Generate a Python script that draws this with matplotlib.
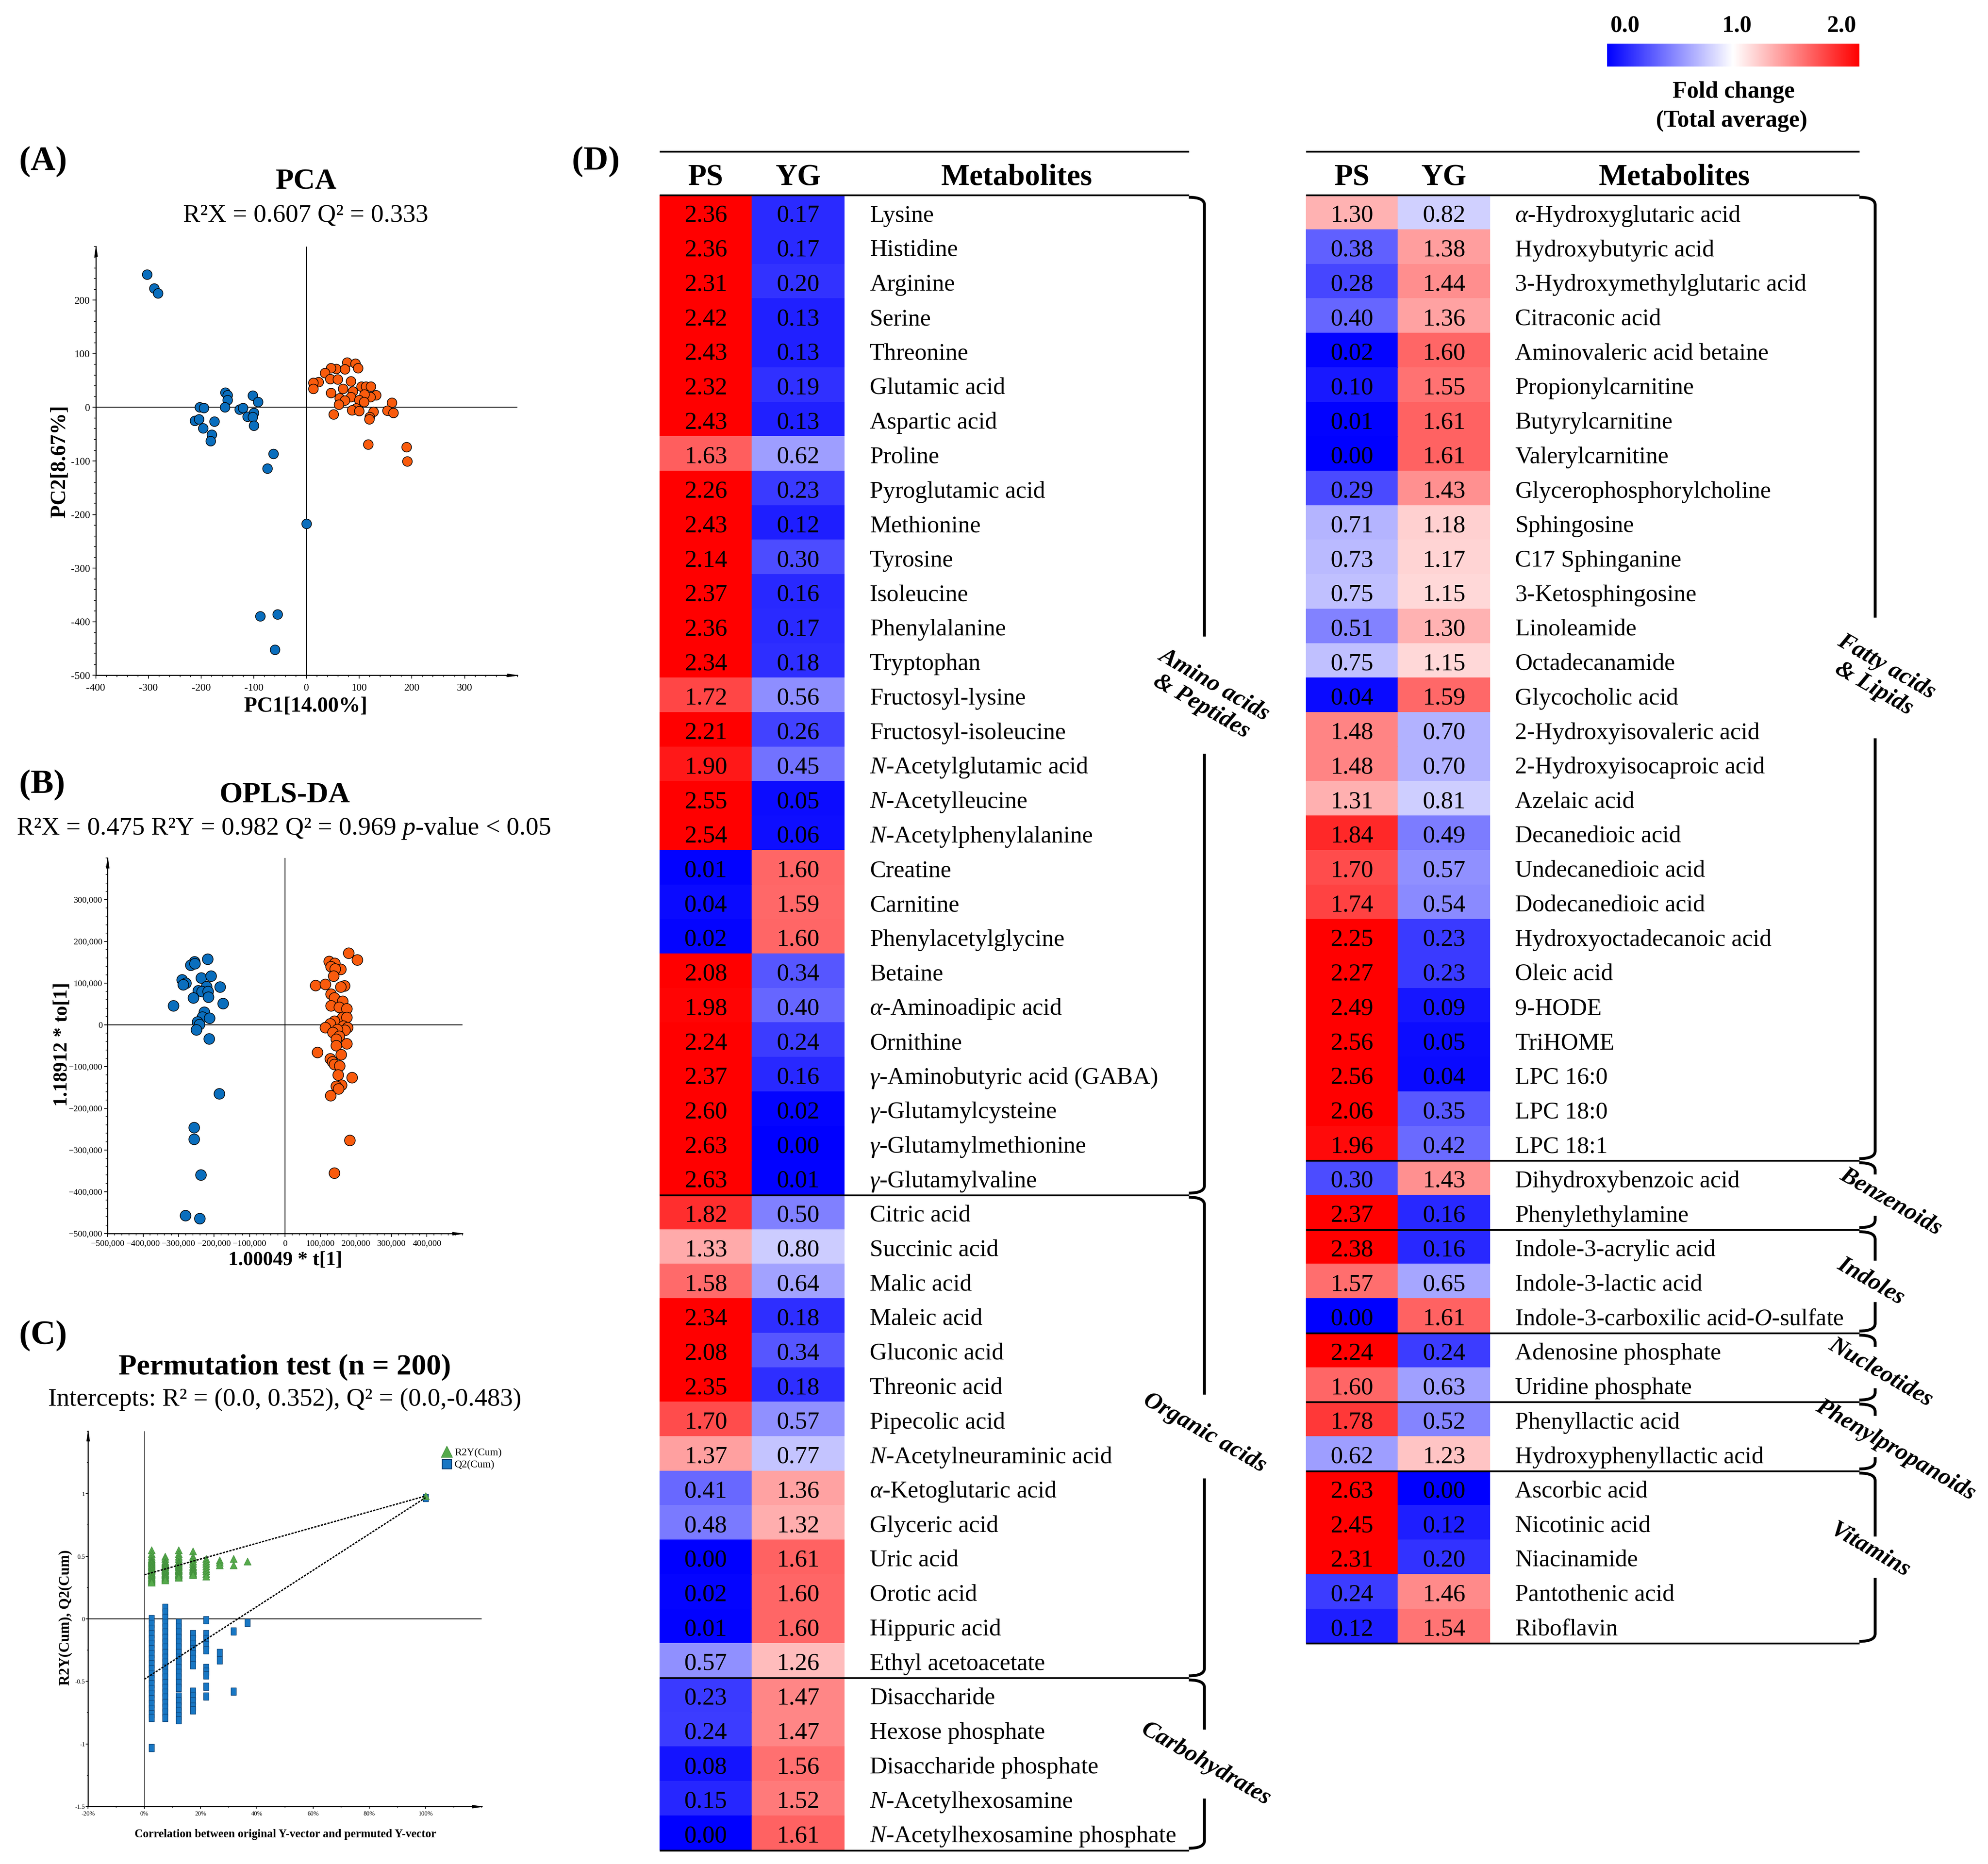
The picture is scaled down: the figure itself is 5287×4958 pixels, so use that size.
import numpy as np
import matplotlib
matplotlib.use("Agg")
import matplotlib.pyplot as plt
from matplotlib.colors import LinearSegmentedColormap, Normalize
from matplotlib.ticker import MultipleLocator, FuncFormatter
from matplotlib.path import Path
from matplotlib.patches import PathPatch
from matplotlib.lines import Line2D
from matplotlib.cm import ScalarMappable
from matplotlib.transforms import ScaledTranslation

plt.rcParams['font.family'] = ['Liberation Serif', 'DejaVu Serif']
plt.rcParams['mathtext.fontset'] = 'custom'
plt.rcParams['mathtext.rm'] = 'Liberation Serif'
plt.rcParams['mathtext.it'] = 'Liberation Serif:italic'
plt.rcParams['mathtext.bf'] = 'Liberation Serif:bold'
plt.rcParams['axes.unicode_minus'] = False

# ------------------------------------------------------------------ data
# (A) PCA scores
pca_blue_x = [-303, -289, -282, -154, -150, -150, -155, -203, -195, -212,
              -204, -196, -175, -180, -182, -127, -121, -112, -102, -92,
              -100, -102, -100, -63, -74, 0, -88, -55, -60]
pca_blue_y = [248, 222, 213, 28, 23, 14, 0, 0, -1, -25,
              -22, -39, -26, -51, -63, -4, -1, -17, 22, 10,
              -10, -18, -34, -87, -114, -217, -390, -386, -452]
pca_orange_x = [77, 93, 98, 56, 73, 46, 35, 45, 59, 23,
                13, 13, 84, 69, 104, 113, 122, 88, 46, 132,
                121, 110, 63, 84, 73, 100, 109, 61, 162, 94,
                86, 100, 127, 153, 165, 51, 120, 119, 117, 190, 191]
pca_orange_y = [84, 82, 73, 72, 71, 73, 64, 53, 52, 47,
                46, 35, 49, 35, 39, 39, 39, 30, 27, 23,
                19, 24, 17, 19, 13, 14, 10, 5, 9, -2,
                -5, -7, -8, -6, -10, -13, -18, -22, -69, -74, -101]

# (B) OPLS-DA scores (in thousands)
opls_blue_xk = [-218, -255, -266, -254, -290, -280, -287, -236, -209, -183,
                -222, -245, -234, -217, -216, -259, -175, -315, -228, -233,
                -213, -247, -242, -250, -214, -185, -256, -256, -237, -281, -241]
opls_blue_yk = [158, 151, 143, 147, 108, 100, 96, 113, 117, 91,
                92, 82, 80, 80, 67, 65, 51, 46, 31, 19,
                16, 7, 1, -12, -33, -165, -246, -274, -360, -457, -464]
opls_orange_xk = [179, 203, 124, 140, 129, 157, 141, 137, 86, 113,
                  167, 157, 129, 139, 162, 129, 153, 174, 162, 174,
                  139, 127, 113, 164, 176, 169, 147, 135, 153, 144,
                  144, 174, 91, 158, 127, 134, 139, 154, 189, 149,
                  159, 144, 151, 128, 182, 139]
opls_orange_yk = [172, 156, 152, 148, 140, 133, 134, 117, 95, 97,
                  94, 91, 74, 65, 57, 46, 42, 39, 18, 18,
                  9, 3, -6, -3, -6, -13, -11, -18, -27, -34,
                  -50, -45, -66, -71, -81, -88, -95, -98, -126, -120,
                  -144, -147, -153, -169, -277, -355]

# (C) permutation test
perm_corr = [0.025, 0.074, 0.122, 0.172, 0.220, 0.268, 0.317, 0.366, 1.000]
r2y_perm = [
    [0.55, 0.52, 0.50, 0.48, 0.47, 0.46, 0.45, 0.44, 0.43, 0.42, 0.41, 0.40,
     0.39, 0.38, 0.37, 0.36, 0.35, 0.34, 0.33, 0.32, 0.31, 0.30, 0.29],
    [0.50, 0.48, 0.46, 0.45, 0.44, 0.43, 0.42, 0.41, 0.40, 0.39, 0.38, 0.37,
     0.36, 0.35, 0.34, 0.33, 0.32, 0.31],
    [0.55, 0.52, 0.50, 0.48, 0.46, 0.45, 0.44, 0.43, 0.42, 0.41, 0.40, 0.39,
     0.38, 0.37, 0.36, 0.35, 0.34, 0.33],
    [0.54, 0.50, 0.48, 0.46, 0.44, 0.42, 0.41, 0.40, 0.39, 0.38, 0.37, 0.36, 0.35],
    [0.48, 0.46, 0.44, 0.42, 0.40, 0.38, 0.36, 0.34],
    [0.47, 0.45, 0.43],
    [0.48, 0.43],
    [0.46],
    [0.982]]
q2_perm = [
    [0.00, -0.04, -0.08, -0.12, -0.16, -0.20, -0.24, -0.28, -0.32, -0.36, -0.40,
     -0.44, -0.48, -0.52, -0.56, -0.60, -0.64, -0.68, -0.72, -0.76, -0.79, -1.03],
    [0.09, 0.05, 0.01, -0.03, -0.07, -0.11, -0.15, -0.19, -0.23, -0.27, -0.31,
     -0.35, -0.39, -0.43, -0.47, -0.51, -0.55, -0.59, -0.63, -0.67, -0.71, -0.75, -0.79],
    [-0.03, -0.07, -0.11, -0.15, -0.19, -0.23, -0.27, -0.31, -0.35, -0.39, -0.43,
     -0.47, -0.51, -0.55, -0.62, -0.66, -0.70, -0.74, -0.78, -0.81],
    [-0.12, -0.16, -0.20, -0.24, -0.28, -0.32, -0.37, -0.58, -0.62, -0.66, -0.70, -0.73],
    [-0.01, -0.12, -0.16, -0.21, -0.25, -0.39, -0.42, -0.45, -0.54, -0.62],
    [-0.27, -0.33],
    [-0.10, -0.58],
    [-0.03],
    [0.969]]
fit_x = [0.0, 1.0]
r2_fit_y = [0.352, 0.982]
q2_fit_y = [-0.483, 0.969]

# (D) fold-change heat map
left_names = ['Lysine', 'Histidine', 'Arginine', 'Serine', 'Threonine', 'Glutamic acid',
              'Aspartic acid', 'Proline', 'Pyroglutamic acid', 'Methionine', 'Tyrosine',
              'Isoleucine', 'Phenylalanine', 'Tryptophan', 'Fructosyl-lysine',
              'Fructosyl-isoleucine', r'$\mathit{N}$-Acetylglutamic acid',
              r'$\mathit{N}$-Acetylleucine', r'$\mathit{N}$-Acetylphenylalanine',
              'Creatine', 'Carnitine', 'Phenylacetylglycine', 'Betaine',
              r'$\mathit{α}$-Aminoadipic acid', 'Ornithine',
              r'$\mathit{γ}$-Aminobutyric acid (GABA)', r'$\mathit{γ}$-Glutamylcysteine',
              r'$\mathit{γ}$-Glutamylmethionine', r'$\mathit{γ}$-Glutamylvaline',
              'Citric acid', 'Succinic acid', 'Malic acid', 'Maleic acid', 'Gluconic acid',
              'Threonic acid', 'Pipecolic acid', r'$\mathit{N}$-Acetylneuraminic acid',
              r'$\mathit{α}$-Ketoglutaric acid', 'Glyceric acid', 'Uric acid', 'Orotic acid',
              'Hippuric acid', 'Ethyl acetoacetate',
              'Disaccharide', 'Hexose phosphate', 'Disaccharide phosphate',
              r'$\mathit{N}$-Acetylhexosamine', r'$\mathit{N}$-Acetylhexosamine phosphate']
left_ps = [2.36, 2.36, 2.31, 2.42, 2.43, 2.32, 2.43, 1.63, 2.26, 2.43, 2.14, 2.37, 2.36,
           2.34, 1.72, 2.21, 1.90, 2.55, 2.54, 0.01, 0.04, 0.02, 2.08, 1.98, 2.24, 2.37,
           2.60, 2.63, 2.63,
           1.82, 1.33, 1.58, 2.34, 2.08, 2.35, 1.70, 1.37, 0.41, 0.48, 0.00, 0.02, 0.01, 0.57,
           0.23, 0.24, 0.08, 0.15, 0.00]
left_yg = [0.17, 0.17, 0.20, 0.13, 0.13, 0.19, 0.13, 0.62, 0.23, 0.12, 0.30, 0.16, 0.17,
           0.18, 0.56, 0.26, 0.45, 0.05, 0.06, 1.60, 1.59, 1.60, 0.34, 0.40, 0.24, 0.16,
           0.02, 0.00, 0.01,
           0.50, 0.80, 0.64, 0.18, 0.34, 0.18, 0.57, 0.77, 1.36, 1.32, 1.61, 1.60, 1.60, 1.26,
           1.47, 1.47, 1.56, 1.52, 1.61]
left_groups = ['Amino acids\n& Peptides', 'Organic acids', 'Carbohydrates']
left_group_sizes = [29, 14, 5]

right_names = [r'$\mathit{α}$-Hydroxyglutaric acid', 'Hydroxybutyric acid',
               '3-Hydroxymethylglutaric acid', 'Citraconic acid', 'Aminovaleric acid betaine',
               'Propionylcarnitine', 'Butyrylcarnitine', 'Valerylcarnitine',
               'Glycerophosphorylcholine', 'Sphingosine', 'C17 Sphinganine',
               '3-Ketosphingosine', 'Linoleamide', 'Octadecanamide', 'Glycocholic acid',
               '2-Hydroxyisovaleric acid', '2-Hydroxyisocaproic acid', 'Azelaic acid',
               'Decanedioic acid', 'Undecanedioic acid', 'Dodecanedioic acid',
               'Hydroxyoctadecanoic acid', 'Oleic acid', '9-HODE', 'TriHOME', 'LPC 16:0',
               'LPC 18:0', 'LPC 18:1',
               'Dihydroxybenzoic acid', 'Phenylethylamine',
               'Indole-3-acrylic acid', 'Indole-3-lactic acid',
               r'Indole-3-carboxilic acid-$\mathit{O}$-sulfate',
               'Adenosine phosphate', 'Uridine phosphate',
               'Phenyllactic acid', 'Hydroxyphenyllactic acid',
               'Ascorbic acid', 'Nicotinic acid', 'Niacinamide', 'Pantothenic acid', 'Riboflavin']
right_ps = [1.30, 0.38, 0.28, 0.40, 0.02, 0.10, 0.01, 0.00, 0.29, 0.71, 0.73, 0.75, 0.51,
            0.75, 0.04, 1.48, 1.48, 1.31, 1.84, 1.70, 1.74, 2.25, 2.27, 2.49, 2.56, 2.56,
            2.06, 1.96,
            0.30, 2.37,
            2.38, 1.57, 0.00,
            2.24, 1.60,
            1.78, 0.62,
            2.63, 2.45, 2.31, 0.24, 0.12]
right_yg = [0.82, 1.38, 1.44, 1.36, 1.60, 1.55, 1.61, 1.61, 1.43, 1.18, 1.17, 1.15, 1.30,
            1.15, 1.59, 0.70, 0.70, 0.81, 0.49, 0.57, 0.54, 0.23, 0.23, 0.09, 0.05, 0.04,
            0.35, 0.42,
            1.43, 0.16,
            0.16, 0.65, 1.61,
            0.24, 0.63,
            0.52, 1.23,
            0.00, 0.12, 0.20, 1.46, 1.54]
right_groups = ['Fatty acids\n& Lipids', 'Benzenoids', 'Indoles', 'Nucleotides',
                'Phenylpropanoids', 'Vitamins']
right_group_sizes = [28, 2, 3, 2, 2, 5]

colorbar_ticks = [0.0, 1.0, 2.0]

# ------------------------------------------------------------------ layout helpers
FW, FH = 5287, 4958
DW, DH = 1568.0, 1470.4          # reference preview frame used for placement

fig = plt.figure(figsize=(FW / 100, FH / 100), dpi=100)


def rect(x0, y0, x1, y1):
    return [x0 / DW, 1 - y1 / DH, (x1 - x0) / DW, (y1 - y0) / DH]


def ftext(x, y, s, **kw):
    return fig.text(x / DW, 1 - y / DH, s, **kw)


BLUE = '#0A6EBD'
ORANGE = '#F95B0D'
GREEN = '#55AA4B'
SQBLUE = '#1877C4'

arrow_r = [(-1.0, -0.28), (1.0, 0.0), (-1.0, 0.28), (-1.0, -0.28)]
arrow_u = [(-0.28, -1.0), (0.0, 1.0), (0.28, -1.0), (-0.28, -1.0)]


def style_axes(ax, tick_size, pad_x, pad_y, major_len=6.5, minor_len=3.5):
    for s in ('top', 'right'):
        ax.spines[s].set_visible(False)
    for s in ('left', 'bottom'):
        ax.spines[s].set_linewidth(2.0)
    ax.tick_params(which='major', direction='out', length=major_len, width=1.5,
                   labelsize=tick_size)
    ax.tick_params(which='minor', direction='out', length=minor_len, width=1.2)
    ax.tick_params(axis='x', pad=pad_x)
    ax.tick_params(axis='y', pad=pad_y)
    off = 9.0 / 72
    ax.plot(1, 0, marker=arrow_r, ms=20, color='k', clip_on=False, zorder=5,
            transform=ax.transAxes + ScaledTranslation(-off, 0, fig.dpi_scale_trans))
    ax.plot(0, 1, marker=arrow_u, ms=20, color='k', clip_on=False, zorder=5,
            transform=ax.transAxes + ScaledTranslation(0, -off, fig.dpi_scale_trans))


# ------------------------------------------------------------------ (A) PCA
ftext(15, 134, '(A)', fontsize=66, fontweight='bold', ha='left', va='baseline')
ftext(241.5, 149, 'PCA', fontsize=57, fontweight='bold', ha='center', va='baseline')
ftext(241, 175, 'R²X = 0.607 Q² = 0.333', fontsize=49, ha='center', va='baseline')

ax = fig.add_axes(rect(75.5, 194.5, 408, 532.7))
ax.axhline(0, color='k', lw=1.6, zorder=1)
ax.axvline(0, color='k', lw=1.6, zorder=1)
ax.scatter(pca_blue_x, pca_blue_y, s=340, c=BLUE, edgecolors='black', linewidths=1.3, zorder=3)
ax.scatter(pca_orange_x, pca_orange_y, s=340, c=ORANGE, edgecolors='black', linewidths=1.3, zorder=3)
ax.set_xlim(-400, 400)
ax.set_ylim(-500, 300)
ax.set_xticks(np.arange(-400, 301, 100))
ax.set_yticks(np.arange(-500, 201, 100))
ax.xaxis.set_minor_locator(MultipleLocator(20))
ax.yaxis.set_minor_locator(MultipleLocator(20))
style_axes(ax, 20, 9, 4.5)
ax.text((241 - 75.5) / 332.5, (532.7 - 557) / 338.2, 'PC1[14.00%]', transform=ax.transAxes,
        ha='center', va='center', fontsize=41, fontweight='bold')
ax.text((47 - 75.5) / 332.5, (532.7 - 364) / 338.2, 'PC2[8.67%]', transform=ax.transAxes,
        ha='center', va='center', fontsize=41, fontweight='bold', rotation=90)

# ------------------------------------------------------------------ (B) OPLS-DA
ftext(15, 625.5, '(B)', fontsize=66, fontweight='bold', ha='left', va='baseline')
ftext(224.5, 633, 'OPLS-DA', fontsize=57, fontweight='bold', ha='center', va='baseline')
ftext(223.7, 658.4, r'R²X = 0.475 R²Y = 0.982 Q² = 0.969 $\mathit{p}$-value < 0.05',
      fontsize=49, ha='center', va='baseline')

ax = fig.add_axes(rect(84.9, 676.8, 364.7, 973))
ax.axhline(0, color='k', lw=1.6, zorder=1)
ax.axvline(0, color='k', lw=1.6, zorder=1)
ax.scatter(np.array(opls_blue_xk) * 1000, np.array(opls_blue_yk) * 1000, s=420, c=BLUE,
           edgecolors='black', linewidths=1.3, zorder=3)
ax.scatter(np.array(opls_orange_xk) * 1000, np.array(opls_orange_yk) * 1000, s=420, c=ORANGE,
           edgecolors='black', linewidths=1.3, zorder=3)
ax.set_xlim(-500000, 500000)
ax.set_ylim(-500000, 400000)
ax.set_xticks(np.arange(-500000, 400001, 100000))
ax.set_yticks(np.arange(-500000, 300001, 100000))
ax.xaxis.set_minor_locator(MultipleLocator(20000))
ax.yaxis.set_minor_locator(MultipleLocator(20000))
fmt_k = FuncFormatter(lambda v, p: ('\u2212' if v < 0 else '') + f'{abs(int(round(v))):,}')
ax.xaxis.set_major_formatter(fmt_k)
ax.yaxis.set_major_formatter(fmt_k)
style_axes(ax, 17, 6, 3.5)
ax.text((225 - 84.9) / 279.8, (973 - 994) / 296.2, '1.00049 * t[1]', transform=ax.transAxes,
        ha='center', va='center', fontsize=38, fontweight='bold')
ax.text((49 - 84.9) / 279.8, (973 - 824) / 296.2, '1.18912 * to[1]', transform=ax.transAxes,
        ha='center', va='center', fontsize=38, fontweight='bold', rotation=90)

# ------------------------------------------------------------------ (C) permutation
ftext(15, 1060, '(C)', fontsize=66, fontweight='bold', ha='left', va='baseline')
ftext(224.5, 1084.4, 'Permutation test (n = 200)', fontsize=57, fontweight='bold',
      ha='center', va='baseline')
ftext(224.5, 1108.6, 'Intercepts: R² = (0.0, 0.352), Q² = (0.0,-0.483)', fontsize=49,
      ha='center', va='baseline')

ax = fig.add_axes(rect(69.5, 1129, 380, 1425))
ax.axhline(0, color='k', lw=1.5, zorder=1)
ax.axvline(0, color='k', lw=1.0, zorder=1)
rect_marker = [(-0.7, -1.0), (0.7, -1.0), (0.7, 1.0), (-0.7, 1.0), (-0.7, -1.0)]
for cx, vals in zip(perm_corr, q2_perm):
    ax.scatter([cx] * len(vals), vals, marker=rect_marker, s=200, c=SQBLUE,
               edgecolors='#0E3F70', linewidths=1.0, zorder=3)
for cx, vals in zip(perm_corr, r2y_perm):
    ax.scatter([cx] * len(vals), vals, marker='^', s=190, c=GREEN,
               edgecolors='#3F8C3A', linewidths=0.8, zorder=4)
ax.plot(fit_x, r2_fit_y, color='k', lw=2.6, ls=(0, (1.6, 0.9)), zorder=5)
ax.plot(fit_x, q2_fit_y, color='k', lw=2.6, ls=(0, (1.6, 0.9)), zorder=5)
ax.set_xlim(-0.2, 1.2)
ax.set_ylim(-1.5, 1.5)
ax.set_xticks(np.arange(-0.2, 1.01, 0.2))
ax.set_yticks([-1.5, -1.0, -0.5, 0.0, 0.5, 1.0])
ax.xaxis.set_minor_locator(MultipleLocator(0.1))
ax.yaxis.set_minor_locator(MultipleLocator(0.25))
ax.xaxis.set_major_formatter(FuncFormatter(lambda v, p: f'{int(round(v * 100))}%'))
ax.yaxis.set_major_formatter(FuncFormatter(lambda v, p: f'{v:g}'))
style_axes(ax, 12, 4, 1.5, major_len=4.5, minor_len=2.5)
handles = [Line2D([], [], ls='none', marker='^', ms=21, color=GREEN, mec='#3F8C3A'),
           Line2D([], [], ls='none', marker='s', ms=18, color=SQBLUE, mec='#0E3F70', mew=1.5)]
ax.legend(handles, ['R2Y(Cum)', 'Q2(Cum)'], loc='upper left', bbox_to_anchor=(0.895, 0.955),
          frameon=False, fontsize=20, handletextpad=0.15, borderpad=0, labelspacing=0.25,
          handlelength=1.2, borderaxespad=0)
ax.text((225 - 69.5) / 310.5, (1425 - 1447) / 296, 'Correlation between original Y-vector and permuted Y-vector',
        transform=ax.transAxes, ha='center', va='center', fontsize=22, fontweight='bold')
ax.text((52 - 69.5) / 310.5, (1425 - 1276) / 296, 'R2Y(Cum), Q2(Cum)', transform=ax.transAxes,
        ha='center', va='center', fontsize=28, fontweight='bold', rotation=90)

# ------------------------------------------------------------------ (D) heat map
cmap = LinearSegmentedColormap.from_list('fc', ['#0000FF', '#FFFFFF', '#FF0000'])
norm = Normalize(vmin=0, vmax=2)
ftext(451, 134, '(D)', fontsize=66, fontweight='bold', ha='left', va='baseline')


def draw_table(rect_d, names, ps, yg, sizes, gnames, lab_x, lab_y, gaps,
               line_end, bx, name_x, head_x):
    n = len(names)
    ax = fig.add_axes(rect_d)
    C = np.column_stack([ps, yg])
    ax.pcolormesh(np.arange(3), np.arange(n + 1), C, cmap=cmap, norm=norm,
                  shading='flat', edgecolors='face', linewidth=0.3)
    ax.set_xlim(0, 2)
    ax.set_ylim(n, 0)
    ax.axis('off')
    for i in range(n):
        ax.text(0.5, i + 0.77, f'{ps[i]:.2f}', ha='center', va='baseline', fontsize=47)
        ax.text(1.5, i + 0.77, f'{yg[i]:.2f}', ha='center', va='baseline', fontsize=47)
        ax.text(name_x, i + 0.77, names[i], ha='left', va='baseline', fontsize=46)
    hy = -0.294
    ax.text(0.5, hy, 'PS', ha='center', va='baseline', fontsize=58, fontweight='bold')
    ax.text(1.5, hy, 'YG', ha='center', va='baseline', fontsize=58, fontweight='bold')
    ax.text(head_x, hy, 'Metabolites', ha='center', va='baseline', fontsize=58, fontweight='bold')
    lkw = dict(color='k', lw=3.3, clip_on=False, solid_capstyle='butt', zorder=6)
    ax.plot([0, line_end], [-1.265, -1.265], **lkw)
    bounds = np.concatenate([[0], np.cumsum(sizes)])
    for b in bounds:
        ax.plot([0, line_end], [b, b], **lkw)
    off, cr = 0.06, 0.28
    for g in range(len(sizes)):
        r0, r1 = bounds[g], bounds[g + 1]
        cy = (r0 + r1) / 2.0
        verts = [(line_end, r0 + off), (bx, r0 + off), (bx, r0 + cr), (bx, cy - gaps[g] / 2),
                 (bx, cy + gaps[g] / 2), (bx, r1 - cr), (bx, r1 - off), (line_end, r1 - off)]
        codes = [Path.MOVETO, Path.CURVE3, Path.CURVE3, Path.LINETO,
                 Path.MOVETO, Path.LINETO, Path.CURVE3, Path.CURVE3]
        ax.add_patch(PathPatch(Path(verts, codes), fill=False, lw=5.5, ec='k',
                               clip_on=False, capstyle='butt', zorder=6))
        ax.text(lab_x[g], lab_y[g], gnames[g], rotation=-30, rotation_mode='anchor',
                ha='center', va='center', fontsize=46, fontweight='bold', fontstyle='italic',
                linespacing=1.2, multialignment='center', zorder=7)
    return ax


cwL = (666 - 520.2) / 2
draw_table(rect(520.2, 154, 666, 1459.6), left_names, left_ps, left_yg, left_group_sizes,
           left_groups,
           lab_x=[(952.7 - 520.2) / cwL, (950 - 520.2) / cwL, (951 - 520.2) / cwL],
           lab_y=[14.51, 35.9, 45.5],
           gaps=[3.4, 2.43, 2.0],
           line_end=(937.7 - 520.2) / cwL, bx=(950 - 520.2) / cwL,
           name_x=(686 - 520.2) / cwL, head_x=(802 - 520.2) / cwL)

cwR = (1175.3 - 1030) / 2
draw_table(rect(1030, 154, 1175.3, 1296.4), right_names, right_ps, right_yg, right_group_sizes,
           right_groups,
           lab_x=[(1483 - 1030) / cwR, (1491.4 - 1030) / cwR, (1475.7 - 1030) / cwR,
                  (1483.4 - 1030) / cwR, (1495 - 1030) / cwR, (1475 - 1030) / cwR],
           lab_y=[14.0, 29.2, 31.5, 34.14, 36.4, 39.3],
           gaps=[3.5, 1.2, 1.2, 1.2, 1.2, 1.2],
           line_end=(1466.5 - 1030) / cwR, bx=(1479 - 1030) / cwR,
           name_x=(1195 - 1030) / cwR, head_x=(1320.6 - 1030) / cwR)

# colour bar
cax = fig.add_axes(rect(1267.5, 34.4, 1466.7, 52.4))
cb = fig.colorbar(ScalarMappable(norm=norm, cmap=cmap), cax=cax, orientation='horizontal')
cb.set_ticks([])
cb.outline.set_visible(False)
for v, ha, x in zip(colorbar_ticks, ['left', 'center', 'right'], [1270, 1370, 1464]):
    ftext(x, 25.2, f'{v:.1f}', ha=ha, va='baseline', fontsize=45, fontweight='bold')
ftext(1367.3, 77.1, 'Fold change', ha='center', va='baseline', fontsize=45, fontweight='bold')
ftext(1365.7, 99.8, '(Total average)', ha='center', va='baseline', fontsize=45, fontweight='bold')

fig.savefig('out.png', dpi=100)
